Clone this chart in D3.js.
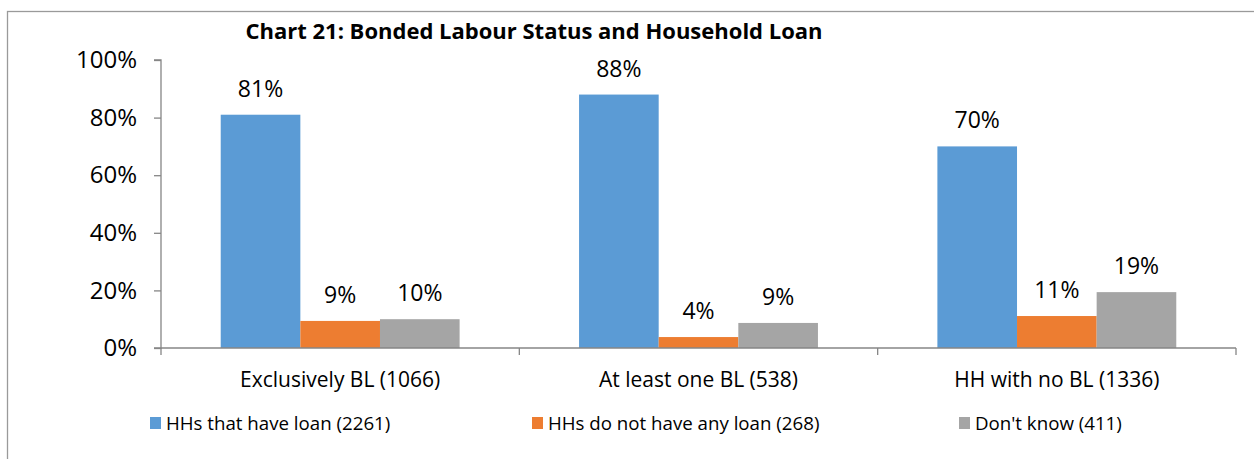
<!DOCTYPE html>
<html>
<head>
<meta charset="utf-8">
<script src="https://cdn.jsdelivr.net/npm/d3@7"></script>
<style>
  body { margin: 0; background: #fff; }
  svg { display: block; font-family: "Open Sans", sans-serif; }
</style>
</head>
<body>
<svg width="1254" height="459"></svg>
<script>
// chart data
var categories = ["Exclusively BL (1066)", "At least one BL (538)", "HH with no BL (1336)"];
var seriesNames = ["HHs that have loan (2261)", "HHs do not have any loan (268)", "Don't know (411)"];
var haveLoan = [0.81, 0.88, 0.70];
var noLoan = [0.094, 0.038, 0.111];
var dontKnow = [0.10, 0.087, 0.194];
var yTicks = [0, 0.2, 0.4, 0.6, 0.8, 1.0];
var colors = ["#5b9bd5", "#ed7d31", "#a5a5a5"];

var series = [haveLoan, noLoan, dontKnow];

var svg = d3.select("svg");
var width = +svg.attr("width");
var height = +svg.attr("height");

// outer frame (cut off at right and bottom like the source)
svg.append("rect")
    .attr("x", 7.5).attr("y", 11.5)
    .attr("width", width + 10).attr("height", height + 10)
    .attr("fill", "none")
    .attr("stroke", "#9a9a9a")
    .attr("stroke-width", 1.3);

var plotLeft = 161, plotRight = 1236, plotTop = 60, plotBottom = 348;

var x0 = d3.scaleBand().domain(categories).range([plotLeft, plotRight]).paddingInner(0).paddingOuter(0);
var x1 = d3.scaleBand().domain(d3.range(series.length)).range([0, x0.bandwidth()]).paddingInner(0).paddingOuter(0.75);
var y = d3.scaleLinear().domain([0, 1]).range([plotBottom, plotTop]);

// title
svg.append("text")
    .attr("x", 534).attr("y", 39)
    .attr("text-anchor", "middle")
    .attr("font-weight", "bold")
    .attr("font-size", 22)
    .attr("fill", "#000")
    .text("Chart 21: Bonded Labour Status and Household Loan");

// y axis
var yAxis = svg.append("g")
    .attr("transform", "translate(" + plotLeft + ",0)")
    .call(d3.axisLeft(y).tickValues(yTicks).tickFormat(d3.format(".0%")).tickSize(7).tickPadding(17));
yAxis.selectAll("text").attr("font-size", 24).attr("fill", "#000").attr("font-family", "Open Sans");
yAxis.selectAll("line, path").attr("stroke", "#868686").attr("stroke-width", 1.3);
yAxis.select(".domain").attr("d", "M-7," + plotTop + "H0V" + plotBottom + "H-7");

// bars
var groups = svg.append("g").selectAll("g")
    .data(categories)
    .enter().append("g")
    .attr("transform", function (d) { return "translate(" + x0(d) + ",0)"; });

groups.selectAll("rect")
    .data(function (d, i) { return series.map(function (s, k) { return { k: k, v: s[i] }; }); })
    .enter().append("rect")
    .attr("x", function (d) { return x1(d.k); })
    .attr("width", x1.bandwidth())
    .attr("y", function (d) { return y(d.v); })
    .attr("height", function (d) { return y(0) - y(d.v); })
    .attr("fill", function (d) { return colors[d.k]; });

groups.selectAll("text")
    .data(function (d, i) { return series.map(function (s, k) { return { k: k, v: s[i] }; }); })
    .enter().append("text")
    .attr("x", function (d) { return x1(d.k) + x1.bandwidth() / 2; })
    .attr("y", function (d) { return y(d.v) - 18; })
    .attr("text-anchor", "middle")
    .attr("font-size", 23)
    .attr("fill", "#000")
    .text(function (d) { return Math.round(d.v * 100) + "%"; });

// x axis
var xAxis = svg.append("g")
    .attr("transform", "translate(0," + plotBottom + ")")
    .call(d3.axisBottom(x0).tickSize(0).tickPadding(24));
xAxis.selectAll("text").attr("font-size", 21).attr("fill", "#000").attr("font-family", "Open Sans");
xAxis.select(".domain").attr("stroke", "#868686").attr("stroke-width", 1.3)
    .attr("d", "M" + plotLeft + ",0H" + plotRight);
xAxis.selectAll(".bound")
    .data(d3.range(categories.length + 1))
    .enter().append("line")
    .attr("x1", function (i) { return plotLeft + i * x0.step(); })
    .attr("x2", function (i) { return plotLeft + i * x0.step(); })
    .attr("y1", 0).attr("y2", 7)
    .attr("stroke", "#868686").attr("stroke-width", 1.3);

// legend
var legendX = [150, 532, 959];
var legend = svg.append("g").selectAll("g")
    .data(seriesNames)
    .enter().append("g")
    .attr("transform", function (d, i) { return "translate(" + legendX[i] + ",417)"; });
legend.append("rect")
    .attr("width", 11).attr("height", 12)
    .attr("fill", function (d, i) { return colors[i]; });
legend.append("text")
    .attr("x", 16).attr("y", 13)
    .attr("font-size", 18.7)
    .attr("fill", "#000")
    .text(function (d) { return d; });
</script>
</body>
</html>
